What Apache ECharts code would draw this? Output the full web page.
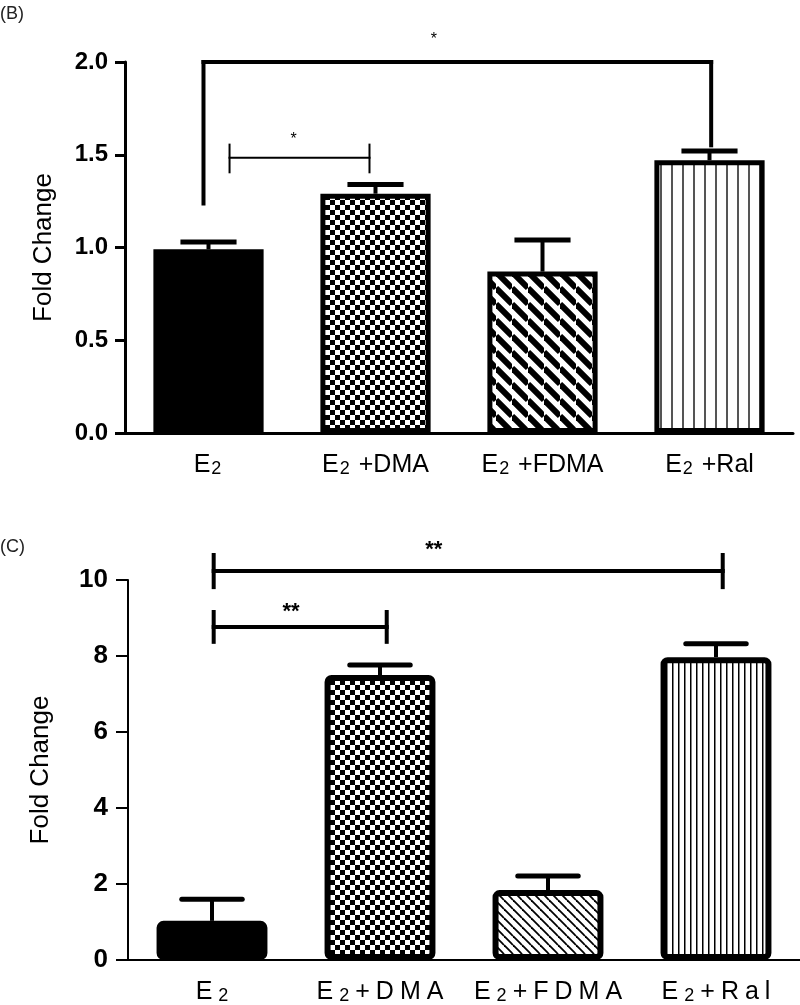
<!DOCTYPE html>
<html><head><meta charset="utf-8">
<script src="https://cdn.jsdelivr.net/npm/echarts@6/dist/echarts.min.js"></script>
<style>html,body{margin:0;padding:0;background:#fff}#c{width:800px;height:1005px}</style>
</head><body><div id="c"></div>
<script>
// ---------- data ----------
const categoriesB = ['E2', 'E2 +DMA', 'E2 +FDMA', 'E2 +Ral'];
const meanB = [0.99, 1.29, 0.87, 1.47];
const semB = [0.04, 0.05, 0.17, 0.05];
const yTicksB = [0, 0.5, 1.0, 1.5, 2.0];

const categoriesC = ['E2', 'E2+DMA', 'E2+FDMA', 'E2+Ral'];
const meanC = [1.03, 7.5, 1.84, 7.97];
const semC = [0.57, 0.26, 0.37, 0.35];
const yTicksC = [0, 2, 4, 6, 8, 10];

// significance brackets: x positions as category index (fractional), y in data units
const bracketsB = [
  { from: -0.03, to: 3.01, level: 2.0, leftLow: 1.226, rightLow: 1.54, tickHigh: null, label: '*', labelX: 1.35, labelY: 2.12 },
  { from: 0.126, to: 0.964, level: 1.484, leftLow: 1.40, rightLow: 1.40, tickHigh: 1.56, label: '*', labelX: 0.51, labelY: 1.58 }
];
const bracketsC = [
  { from: 0.01, to: 3.04, level: 10.24, leftLow: 9.76, rightLow: 9.76, tickHigh: 10.71, label: '**', labelX: 1.32, labelY: 10.8 },
  { from: 0.01, to: 1.04, level: 8.76, leftLow: 8.32, rightLow: 8.32, tickHigh: 9.21, label: '**', labelX: 0.47, labelY: 9.15 }
];

// ---------- styles ----------
const bracketLineB = [4, 2];
const bracketLineC = [4, 4];

function solid() { return '#000'; }
function checker(cell) {
  const c = document.createElement('canvas'); c.width = c.height = cell * 2;
  const g = c.getContext('2d');
  g.fillStyle = '#fff'; g.fillRect(0, 0, cell * 2, cell * 2);
  g.fillStyle = '#000'; g.fillRect(0, 0, cell, cell); g.fillRect(cell, cell, cell, cell);
  return { image: c, repeat: 'repeat' };
}
function diag(s, lw) {
  const c = document.createElement('canvas'); c.width = c.height = s;
  const g = c.getContext('2d');
  g.fillStyle = '#fff'; g.fillRect(0, 0, s, s);
  g.strokeStyle = '#000'; g.lineWidth = lw;
  for (const k of [-s, 0, s]) { g.beginPath(); g.moveTo(0, k); g.lineTo(s, s + k); g.stroke(); }
  return { image: c, repeat: 'repeat' };
}
function vstripe(p, lw, col) {
  const c = document.createElement('canvas'); c.width = p; c.height = 4;
  const g = c.getContext('2d');
  g.fillStyle = '#fff'; g.fillRect(0, 0, p, 4);
  g.fillStyle = col; g.fillRect(0, 0, lw, 4);
  return { image: c, repeat: 'repeat' };
}
const fillsB = [solid(), checker(5), diag(16, 6), vstripe(11, 2, '#555')];
const fillsC = [solid(), checker(5), diag(9, 1.8), vstripe(6, 1.5, '#000')];

const FONT = 'Liberation Sans, Arial, sans-serif';

function catLabel(spaced) {
  return function (v) {
    const rest = v.slice(2);
    if (!spaced) return '{m|E}{s|2}' + (rest ? '{m|' + rest + '}' : '');
    let out = '{c|E}{t|2}';
    for (const ch of rest) out += '{c|' + ch + '}';
    return out;
  };
}

function errRender(grid) {
  return function (params, api) {
    const m = api.value(1), e = api.value(2), i = api.value(0);
    const p0 = api.coord([i, m]);
    const p1 = api.coord([i, m + e]);
    const band = api.size([1, 0])[0];
    const hw = band * (grid === 0 ? 0.168 : 0.18);
    return {
      type: 'group', children: [
        { type: 'line', shape: { x1: p0[0], y1: p0[1], x2: p1[0], y2: p1[1] }, style: { stroke: '#000', lineWidth: 4 } },
        { type: 'line', shape: { x1: p1[0] - hw, y1: p1[1], x2: p1[0] + hw, y2: p1[1] }, style: { stroke: '#000', lineWidth: 5, lineCap: grid === 0 ? 'butt' : 'round' } }
      ]
    };
  };
}

function bracketRender(list, widths, fontSize, bold) {
  return function (params, api) {
    const b = list[params.dataIndex];
    const lw = widths[params.dataIndex];
    const band = api.size([1, 0])[0];
    const x0 = api.coord([0, b.level])[0];
    const X = f => x0 + f * band;
    const Y = v => api.coord([0, v])[1];
    const children = [];
    const yl = Y(b.level);
    children.push({ type: 'line', shape: { x1: X(b.from) - lw / 2, y1: yl, x2: X(b.to) + lw / 2, y2: yl }, style: { stroke: '#000', lineWidth: lw } });
    const topL = b.tickHigh == null ? b.level : b.tickHigh;
    const ext = b.tickHigh == null ? lw / 2 : 0;
    children.push({ type: 'line', shape: { x1: X(b.from), y1: Y(topL) - ext, x2: X(b.from), y2: Y(b.leftLow) }, style: { stroke: '#000', lineWidth: lw } });
    children.push({ type: 'line', shape: { x1: X(b.to), y1: Y(topL) - ext, x2: X(b.to), y2: Y(b.rightLow) }, style: { stroke: '#000', lineWidth: lw } });
    children.push({ type: 'text', style: { text: b.label, x: X(b.labelX), y: Y(b.labelY), align: 'center', verticalAlign: 'middle', fontSize: fontSize, fontWeight: bold ? 'bold' : 'normal', fontFamily: FONT, fill: '#000' } });
    return { type: 'group', children };
  };
}

const chart = echarts.init(document.getElementById('c'), null, { renderer: 'canvas' });

function xAxisFor(gridIndex, cats, lw, fontSize, spaced) {
  return {
    type: 'category', gridIndex, data: cats,
    axisLine: { lineStyle: { color: '#000', width: lw } },
    axisTick: { alignWithLabel: true, length: 11, lineStyle: { color: '#000', width: 3 } },
    axisLabel: {
      interval: 0, hideOverlap: false,
      formatter: catLabel(spaced), margin: 20, color: '#000',
      rich: {
        m: { fontSize: fontSize, fontFamily: FONT, color: '#000' },
        s: { fontSize: fontSize * 0.72, fontFamily: FONT, color: '#000', verticalAlign: 'bottom', padding: [0, 2, 0, 1] },
        c: { fontSize: fontSize, fontFamily: FONT, color: '#000', padding: [0, 3, 0, 3] },
        t: { fontSize: fontSize * 0.72, fontFamily: FONT, color: '#000', verticalAlign: 'bottom', padding: [0, 3, 0, 3] }
      }
    }
  };
}
function yAxisFor(gridIndex, ticks, lw, fontSize, margin, nameGap, tickLen, fixed) {
  const interval = ticks[1] - ticks[0];
  return {
    type: 'value', gridIndex, min: ticks[0], max: ticks[ticks.length - 1], interval,
    name: 'Fold Change', nameLocation: 'middle', nameRotate: 90, nameGap,
    nameTextStyle: { fontSize: 26, fontFamily: FONT, color: '#000' },
    splitLine: { show: false },
    axisLine: { show: true, lineStyle: { color: '#000', width: lw } },
    axisTick: { show: true, length: tickLen, lineStyle: { color: '#000', width: lw } },
    axisLabel: { fontSize, fontWeight: 'bold', fontFamily: FONT, color: '#000', margin,
      formatter: v => fixed ? v.toFixed(1) : String(v) }
  };
}

chart.setOption({
  animation: false,
  backgroundColor: '#fff',
  graphic: [
    { type: 'text', left: 0, top: 5, style: { text: '(B)', fontSize: 18, fontFamily: FONT, fill: '#222' } },
    { type: 'text', left: 0, top: 538, style: { text: '(C)', fontSize: 18, fontFamily: FONT, fill: '#222' } }
  ],
  grid: [
    { left: 125, top: 62, width: 668, height: 371 },
    { left: 128, top: 580, width: 672, height: 380 }
  ],
  xAxis: [
    xAxisFor(0, categoriesB, 3, 25, false),
    xAxisFor(1, categoriesC, 2, 25, true)
  ],
  yAxis: [
    yAxisFor(0, yTicksB, 3, 24, 17, 68, 10, true),
    yAxisFor(1, yTicksC, 2, 26, 20, 74, 12, false)
  ],
  series: [
    {
      type: 'bar', xAxisIndex: 0, yAxisIndex: 0, barWidth: '66%',
      data: meanB.map((v, i) => ({ value: v, itemStyle: { color: fillsB[i] } })),
      itemStyle: { borderColor: '#000', borderWidth: 5 }, z: 2
    },
    {
      type: 'custom', xAxisIndex: 0, yAxisIndex: 0, renderItem: errRender(0), clip: false,
      data: meanB.map((v, i) => [i, v, semB[i]]), z: 3
    },
    {
      type: 'custom', xAxisIndex: 0, yAxisIndex: 0, renderItem: bracketRender(bracketsB, bracketLineB, 16, false), clip: false,
      data: bracketsB.map(b => [0, b.level]), z: 4
    },
    {
      type: 'bar', xAxisIndex: 1, yAxisIndex: 1, barWidth: '66%',
      data: meanC.map((v, i) => ({ value: v, itemStyle: { color: fillsC[i] } })),
      itemStyle: { borderColor: '#000', borderWidth: 6, borderRadius: 4 }, z: 2
    },
    {
      type: 'custom', xAxisIndex: 1, yAxisIndex: 1, renderItem: errRender(1), clip: false,
      data: meanC.map((v, i) => [i, v, semC[i]]), z: 3
    },
    {
      type: 'custom', xAxisIndex: 1, yAxisIndex: 1, renderItem: bracketRender(bracketsC, bracketLineC, 22, true), clip: false,
      data: bracketsC.map(b => [0, b.level]), z: 4
    }
  ]
});
</script></body></html>
